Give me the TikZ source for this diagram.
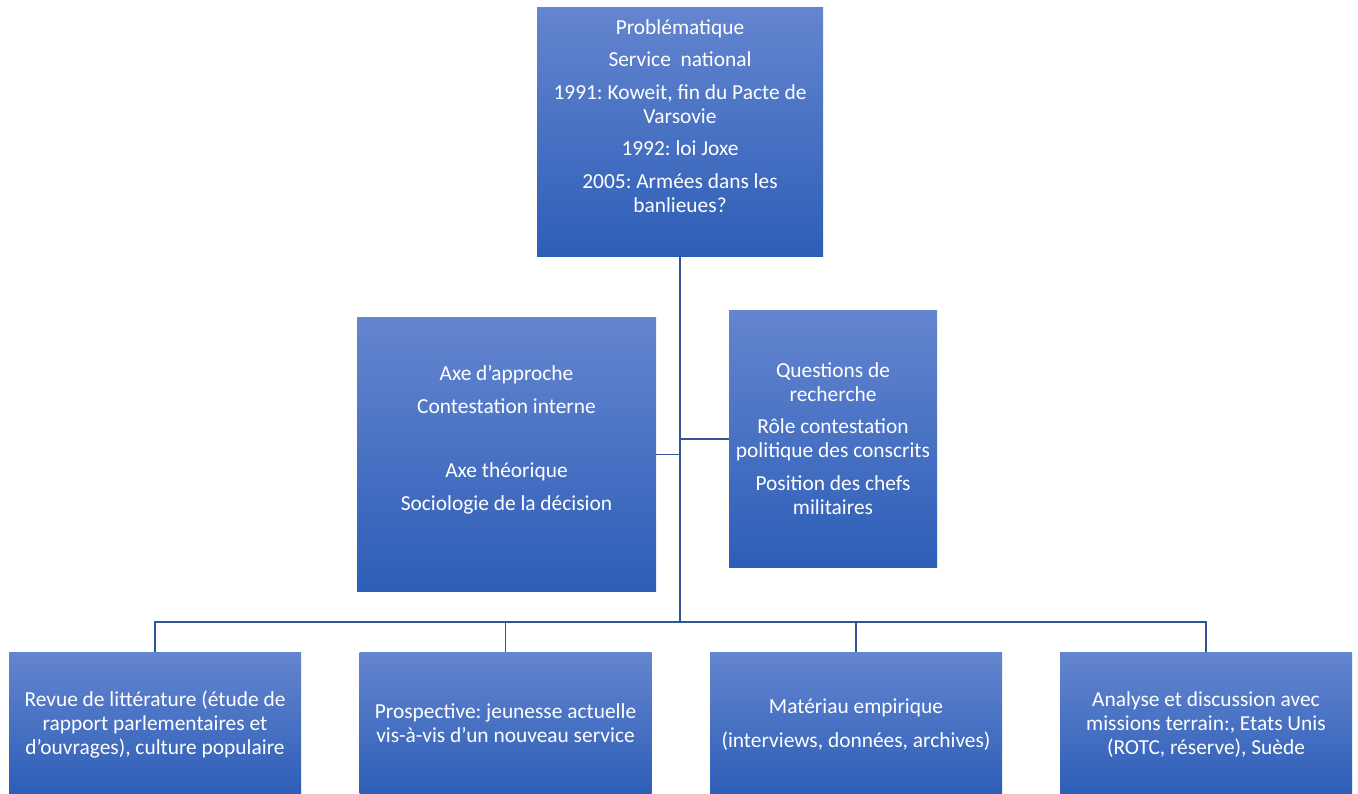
\documentclass[tikz,border=0pt]{standalone}
\usepackage{fontspec}
\setmainfont{Carlito}
\definecolor{boxtop}{RGB}{100,133,207}
\definecolor{boxmid}{RGB}{68,114,196}
\definecolor{boxbot}{RGB}{45,94,183}
\definecolor{connc}{RGB}{47,85,151}
\tikzset{
  box/.style={rectangle, inner sep=0pt, draw=none, top color=boxtop, middle color=boxmid, bottom color=boxbot},
  txt/.style={align=center, text=white, inner sep=0pt, font=\fontsize{21.4}{24}\selectfont\frenchspacing},
  conn/.style={draw=connc, line width=1.4pt},
  thinconn/.style={draw=connc, line width=1.1pt}
}
\newcommand{\pgap}{\\[8.5pt]}
\begin{document}
\begin{tikzpicture}[x=1pt,y=-1pt]
\useasboundingbox (0,0) rectangle (1358,794);
% boxes
\node[box, minimum width=286pt, minimum height=249pt] (top) at (680,132.5) {};
\node[box, minimum width=299pt, minimum height=273pt] (lmid) at (506.5,454.5) {};
\node[box, minimum width=208pt, minimum height=256pt] (rmid) at (833,439) {};
\node[box, minimum width=292pt, minimum height=142pt] (b1) at (155,723) {};
\node[box, minimum width=292pt, minimum height=142pt] (b2) at (505.5,723) {};
\node[box, minimum width=292pt, minimum height=142pt] (b3) at (856,723) {};
\node[box, minimum width=292pt, minimum height=142pt] (b4) at (1206,723) {};
% texts
\node[txt] (toptxt) at (680,118.5) {\strut Problématique\pgap Service\ \ national\pgap 1991: Koweit, fin du Pacte de\\ Varsovie\pgap 1992: loi Joxe\pgap 2005: Armées dans les\\ banlieues?\strut};
\node[txt] (lmidtxt) at (506.5,440.5) {\strut Axe d’approche\pgap Contestation interne\\[40.5pt] Axe théorique\pgap Sociologie de la décision\strut};
\node[txt] (rmidtxt) at (833,441) {\strut Questions de\\ recherche\pgap Rôle contestation\\ politique des conscrits\pgap Position des chefs\\ militaires\strut};
\node[txt] (b1txt) at (155,726) {\strut Revue de littérature (étude de\\ rapport parlementaires et\\ d’ouvrages), culture populaire\strut};
\node[txt] (b2txt) at (505.5,726) {\strut Prospective: jeunesse actuelle\\ vis-à-vis d’un nouveau service\strut};
\node[txt] (b3txt) at (856,726) {\strut Matériau empirique\\[10pt] (interviews, données, archives)\strut};
\node[txt] (b4txt) at (1206,726) {\strut Analyse et discussion avec\\ missions terrain:, Etats Unis\\ (ROTC, réserve), Suède\strut};
% connectors
\coordinate (bus) at (681,622);
\draw[conn] (top.south) -- (top.south |- bus);
\draw[conn] (lmid.east) -- (lmid.east -| top.south);
\draw[conn] (rmid.west) -- (rmid.west -| top.south);
\draw[thinconn] (b1.north) |- (bus);
\draw[thinconn] (b4.north) |- (bus);
\draw[thinconn] (b2.north) -- (b2.north |- bus);
\draw[thinconn] (b3.north) -- (b3.north |- bus);
\end{tikzpicture}
\end{document}
